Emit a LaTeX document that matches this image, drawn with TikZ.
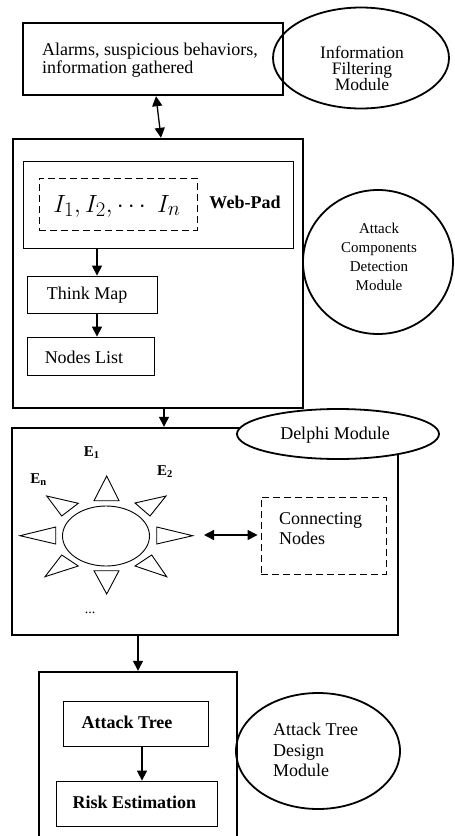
\documentclass[tikz,border=0pt]{standalone}
\usepackage{fontspec}
\setmainfont{Liberation Serif}
\usetikzlibrary{arrows.meta,shapes.geometric,calc}

\begin{document}
\begin{tikzpicture}[x=1pt,y=-1pt,
  box/.style={draw,line width=2.4pt,inner sep=0pt},
  inbox/.style={draw,line width=0.8pt,inner sep=0pt},
  dbox/.style={draw,line width=0.9pt,dash pattern=on 7pt off 4pt,inner sep=0pt},
  oval/.style={draw,ellipse,line width=1.8pt,inner sep=0pt},
  txt/.style={inner sep=0pt,font=\fontsize{18}{15.5}\selectfont},
  btxt/.style={inner sep=0pt,font=\fontsize{18}{18}\selectfont\bfseries},
  etxt/.style={inner sep=0pt,font=\fontsize{15}{15}\selectfont\bfseries},
  arr/.style={line width=1.3pt,-{Triangle[length=10pt,width=10pt]}},
  darr/.style={line width=1.3pt,{Triangle[length=10pt,width=10pt]}-{Triangle[length=10pt,width=10pt]}},
  ray/.style={draw,line width=0.9pt,line join=miter},
]
\clip (0,0) rectangle (455,836);
\fill[white] (0,0) rectangle (455,836);

% ---- Information filtering
\node[box,minimum width=260pt,minimum height=72pt] (alarm) at (153,59) {};
\node[txt,align=left] (alarmtxt) at (150,60) {Alarms, suspicious behaviors,\\information gathered};
\node[oval,minimum width=176pt,minimum height=101pt] (ifm) at (361,58) {};
\node[inner sep=0pt,align=center,font=\fontsize{17.5}{16}\selectfont] (ifmtxt) at (362,68) {Information\\Filtering\\Module};

% ---- Attack components detection
\node[box,minimum width=290pt,minimum height=269pt] (acd) at (158,273.5) {};
\node[inbox,minimum width=270pt,minimum height=87pt] (webpad) at (158,204.5) {};
\node[dbox,minimum width=158pt,minimum height=52pt] (items) at (118,204) {};
\node[inner sep=0pt,font=\fontsize{29}{30}\selectfont] (itemstxt) at (117,206) {$I_1, I_2, \cdots\ I_n$};
\node[btxt] (webpadtxt) at (245,202) {Web-Pad};
\node[inbox,minimum width=130pt,minimum height=37pt] (think) at (92,294.5) {};
\node[txt] (thinktxt) at (87,295) {Think Map};
\node[inbox,minimum width=127pt,minimum height=38pt] (nodes) at (90.5,356) {};
\node[txt] (nodestxt) at (84,357) {Nodes List};
\node[oval,minimum width=150pt,minimum height=144pt] (acdm) at (378,262) {};
\node[inner sep=0pt,align=center,font=\fontsize{15}{19}\selectfont] (acdmtxt) at (379,257) {Attack\\Components\\Detection\\Module};

\draw[darr] ([xshift=3pt]alarm.south) -- ([xshift=3pt]acd.north);
\draw[arr] ([xshift=-61pt]webpad.south) -- ([xshift=5pt]think.north);
\draw[arr] ([xshift=5pt]think.south) -- ([xshift=6.5pt]nodes.north);

% ---- Delphi
\node[box,minimum width=386pt,minimum height=207pt] (delphi) at (205,531.5) {};
\node[oval,fill=white,minimum width=202pt,minimum height=50pt] (delphim) at (338,434) {};
\node[txt] (delphimtxt) at (335,435) {Delphi Module};
\draw[arr] ([xshift=6pt]acd.south) -- ([xshift=-41pt]delphi.north);

\node[draw,ellipse,line width=0.9pt,minimum width=87pt,minimum height=60pt,inner sep=0pt] (sun) at (106,536) {};
\path[ray]
  (94,500.7) -- (106.7,476) -- (119,500.7) -- cycle
  (94,570.7) -- (106.7,594) -- (119,570.7) -- cycle
  (55.7,527) -- (20,535.7) -- (55.7,544) -- cycle
  (156.7,527) -- (192.7,535.7) -- (156.7,544) -- cycle
  (46.7,496) -- (78.3,503.3) -- (61.7,516) -- cycle
  (166,496) -- (135,503) -- (150,516) -- cycle
  (45,576.7) -- (61.7,555) -- (78.3,566) -- cycle
  (166.7,576.7) -- (151.7,555) -- (135,566) -- cycle;
\node[etxt] (e1) at (91.7,453) {E\textsubscript{1}};
\node[etxt] (e2) at (165,472) {E\textsubscript{2}};
\node[etxt] (en) at (38.5,480) {E\textsubscript{n}};
\node[inner sep=0pt,font=\fontsize{14}{14}\selectfont] (more) at (90,613) {...};

\node[dbox,minimum width=125pt,minimum height=77pt] (conn) at (323.5,535.5) {};
\node[inner sep=0pt,align=left,anchor=west,font=\fontsize{18}{20}\selectfont] (conntxt) at (279,529) {Connecting\\Nodes};
\coordinate (sunR) at (204,535);
\draw[darr] (sunR) -- ([xshift=-3pt]conn.west |- sunR);

% ---- Attack tree design
\node[box,minimum width=198pt,minimum height=180pt] (atd) at (138,762) {};
\draw[arr] ([xshift=-67pt]delphi.south) -- (atd.north);
\node[inbox,minimum width=145pt,minimum height=45pt] (tree) at (135.5,723.5) {};
\node[btxt] (treetxt) at (127,722) {Attack Tree};
\node[inbox,minimum width=161pt,minimum height=45pt] (risk) at (136.5,803.5) {};
\node[btxt] (risktxt) at (134.5,802) {Risk Estimation};
\draw[arr] ([xshift=6.5pt]tree.south) -- ([xshift=5.5pt]risk.north);
\node[oval,minimum width=164pt,minimum height=116pt] (atdm) at (318,751) {};
\node[inner sep=0pt,align=left,anchor=west,font=\fontsize{18}{20.5}\selectfont] (atdmtxt) at (273,750) {Attack Tree\\Design\\Module};
\end{tikzpicture}
\end{document}
